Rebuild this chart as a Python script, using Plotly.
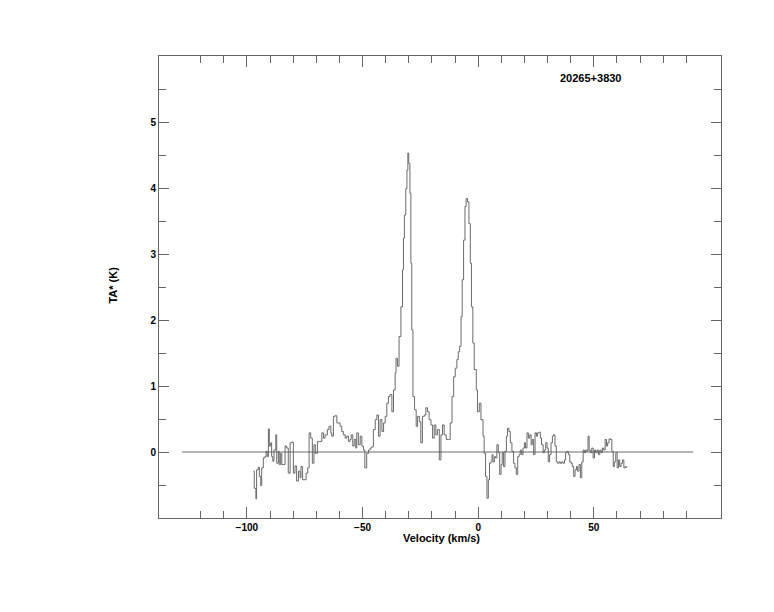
import plotly.graph_objects as go

# Spectrum (velocity in km/s, antenna temperature in K)
velocity = [
    -97.2, -96.8, -96.1, -95.8, -95.1, -94.6, -94.0, -93.6, -92.9, -92.2,
    -91.7, -91.2, -90.7, -90.3, -89.7, -89.3, -88.8, -88.3, -87.5, -87.1,
    -86.4, -86.0, -85.4, -84.9, -84.2, -83.5, -82.8, -82.1, -81.3, -80.6,
    -79.9, -79.2, -78.5, -77.7, -77.0, -76.6, -75.9, -75.3, -74.4, -73.7,
    -73.1, -72.4, -71.7, -71.0, -70.4, -69.5, -68.6, -67.6, -66.9, -66.2,
    -65.2, -64.5, -63.7, -63.3, -62.6, -61.9, -61.1, -60.4, -59.7, -59.0,
    -58.3, -57.5, -56.8, -56.1, -55.4, -54.9, -54.2, -53.6, -52.9, -52.5,
    -51.8, -51.0, -50.3, -49.6, -49.0, -48.2, -47.4, -46.7,
    -46.0, -45.3, -44.5, -43.8, -43.1, -42.4, -41.6, -40.9, -40.2, -39.5,
    -38.8, -38.1, -37.3, -36.6, -35.9, -35.5, -34.9, -34.2, -33.4, -32.7,
    -32.3, -31.9, -31.3, -30.8, -30.4, -30.0, -29.5, -29.1, -28.7, -28.2,
    -27.5, -26.8, -26.2, -25.4, -24.8, -24.1, -23.3, -22.6, -21.9, -21.2,
    -20.4, -19.7, -19.0, -18.3, -17.6, -16.8, -16.1, -15.4, -14.7, -13.8,
    -12.8, -12.1, -11.3, -10.6, -9.9, -9.2, -8.6, -8.0, -7.4, -6.9,
    -6.3, -5.7, -5.2, -4.6, -4.0, -3.4, -2.9, -2.3, -1.7, -0.8,
    -0.3, 0.5, 1.2, 2.1,
    2.6, 3.2, 3.8, 4.4, 4.9, 5.5, 6.0, 6.4, 7.0, 7.5,
    8.1, 8.7, 9.3, 9.9, 10.4, 11.0, 11.6, 12.2, 12.7, 13.3,
    13.9, 14.6, 15.3, 15.9, 16.5, 17.1, 17.7, 18.2, 18.8, 19.4,
    20.0, 20.5, 21.1, 21.7, 22.3, 22.9, 23.4, 24.0, 24.6, 25.2,
    25.7, 26.3, 26.9, 27.4, 28.1, 28.6, 29.2, 29.8, 30.3, 30.9,
    31.5, 32.1, 32.6, 33.2, 33.8, 34.4, 35.0, 35.5, 36.1, 36.7,
    37.3, 37.8, 38.4, 39.0, 39.6, 40.2, 40.7, 41.3, 41.9, 42.5,
    43.0, 43.6, 44.2, 44.8, 45.4, 45.9, 46.5, 47.1, 47.5, 48.0,
    48.5, 49.1, 49.7, 50.3, 50.8, 51.4, 52.0, 52.6, 53.2, 53.7,
    54.3, 54.9, 55.5, 56.0, 56.6, 57.2, 57.8, 58.4, 58.9, 59.5,
    60.1, 60.7, 61.2, 61.8, 62.4, 63.0, 63.6, 64.1,
]
ta_star = [
    -0.29, -0.55, -0.71, -0.27, -0.23, -0.37, -0.51, -0.24, -0.09, -0.07,
    0.01, -0.07, 0.35, 0.09, 0.14, -0.07, -0.14, 0.03, 0.26, -0.17,
    0.01, -0.19, -0.02, -0.19, -0.19, 0.09, 0.06, -0.32, 0.14, 0.15,
    -0.32, -0.21, -0.44, -0.29, -0.39, -0.22, -0.42, -0.42, -0.32, -0.24,
    0.29, 0.21, -0.17, 0.11, -0.02, 0.16, 0.16, 0.29, 0.21, 0.26,
    0.34, 0.39, 0.29, 0.24, 0.54, 0.55, 0.44, 0.44, 0.39, 0.31,
    0.26, 0.21, 0.24, 0.16, 0.19, 0.26, 0.09, 0.19, 0.06, 0.29,
    0.11, 0.24, 0.09, 0.03, -0.24, -0.02, 0.03, 0.06,
    0.08, 0.34, 0.49, 0.56, 0.24, 0.49, 0.31, 0.44, 0.54, 0.74,
    0.84, 0.87, 0.61, 0.94, 1.20, 1.42, 1.30, 1.75, 2.20, 2.76,
    3.24, 3.59, 3.99, 4.27, 4.53, 4.37, 3.92, 2.86, 1.85, 0.84,
    0.64, 0.39, 0.54, 0.46, 0.14, 0.54, 0.56, 0.67, 0.61, 0.49,
    0.41, 0.21, 0.41, 0.26, 0.34, -0.12, 0.26, 0.41, 0.26, 0.19,
    0.19, 0.44, 0.84, 1.14, 1.27, 1.40, 1.52, 1.60, 2.05, 2.61,
    3.21, 3.72, 3.84, 3.79, 3.46, 2.86, 2.20, 1.65, 1.25, 0.94,
    0.61, 0.74, 0.49, 0.24,
    -0.02, -0.37, -0.70, -0.42, -0.17, -0.15, -0.04, -0.15, -0.07, -0.09,
    0.11, -0.01, -0.34, -0.19, -0.01, -0.22, 0.01, 0.24, 0.36, 0.31,
    0.14, 0.01, -0.17, -0.24, -0.34, -0.07, -0.04, 0.03, -0.04, 0.06,
    0.14, 0.06, 0.29, 0.21, 0.26, 0.11, 0.19, -0.04, 0.29, 0.24,
    0.29, 0.30, 0.21, 0.11, -0.01, 0.03, 0.14, 0.06, -0.15, -0.04,
    0.14, 0.24, 0.26, 0.09, -0.15, -0.17, -0.15, -0.17, -0.15, -0.17,
    -0.12, -0.01, 0.01, -0.04, -0.15, -0.17, -0.22, -0.37, -0.27, -0.22,
    -0.29, -0.19, -0.39, -0.15, 0.03, -0.01, 0.03, 0.01, 0.24, 0.03,
    -0.01, 0.06, -0.09, 0.03, -0.01, 0.03, -0.04, 0.03, -0.01, 0.06,
    0.03, 0.19, 0.09, 0.14, 0.20, 0.19, 0.01, -0.22, -0.15, -0.01,
    -0.24, -0.12, -0.22, -0.17, -0.12, -0.24, -0.22, -0.24,
]

# Zero baseline extent
baseline_x = [-128, 93]
baseline_y = [0, 0]

# Axis ticks
x_major = [-100, -50, 0, 50]
x_minor = [-120, -110, -90, -80, -70, -60, -40, -30, -20, -10,
           10, 20, 30, 40, 60, 70, 80, 90]
y_major = [0, 1, 2, 3, 4, 5]
y_minor = [-0.5, 0.5, 1.5, 2.5, 3.5, 4.5, 5.5]

source_name = "20265+3830"

FRAME = "#666666"
LINE = "#5a5a5a"
FONT = dict(family="Liberation Sans, Arial, sans-serif", size=11, color="black", weight="bold")
TICKFONT = dict(family="Liberation Sans, Arial, sans-serif", size=10, color="black", weight="bold")

fig = go.Figure()
fig.add_trace(go.Scatter(x=baseline_x, y=baseline_y, mode="lines",
                         line=dict(color=LINE, width=0.9), hoverinfo="skip"))
fig.add_trace(go.Scatter(x=velocity, y=ta_star, mode="lines",
                         line=dict(color=LINE, width=0.9, shape="hv")))

axis_common = dict(
    showline=True, linecolor=FRAME, linewidth=1, mirror="allticks",
    ticks="inside", tickcolor=FRAME, tickwidth=1,
    showgrid=False, zeroline=False, tickfont=TICKFONT,
)

fig.update_xaxes(range=[-138, 105], tickmode="array", tickvals=x_major,
                 ticklen=11,
                 minor=dict(tickmode="array", tickvals=x_minor, ticklen=7,
                            ticks="inside", tickcolor=FRAME, showgrid=False),
                 **axis_common)
fig.update_yaxes(range=[-1, 6], tickmode="array", tickvals=y_major,
                 ticklen=10,
                 minor=dict(tickmode="array", tickvals=y_minor, ticklen=7,
                            ticks="inside", tickcolor=FRAME, showgrid=False),
                 **axis_common)

fig.add_annotation(text="Velocity (km/s)", xref="paper", yref="paper",
                   x=0.502, y=0, yshift=-20, showarrow=False, font=FONT,
                   xanchor="center", yanchor="middle")
fig.add_annotation(text="TA* (K)", xref="paper", yref="paper",
                   x=0, y=0.503, xshift=-46, showarrow=False, font=FONT,
                   textangle=-90, xanchor="center", yanchor="middle")
fig.add_annotation(text=source_name, xref="paper", yref="paper",
                   x=0.767, y=0.952, showarrow=False, font=FONT,
                   xanchor="center", yanchor="middle")

# The page adds an 8px body margin, so the plot area is shifted accordingly
fig.update_layout(
    width=774, height=612,
    margin=dict(l=151, r=61, t=48, b=102),
    paper_bgcolor="white", plot_bgcolor="white",
    showlegend=False,
)

fig.write_html("out.html")
